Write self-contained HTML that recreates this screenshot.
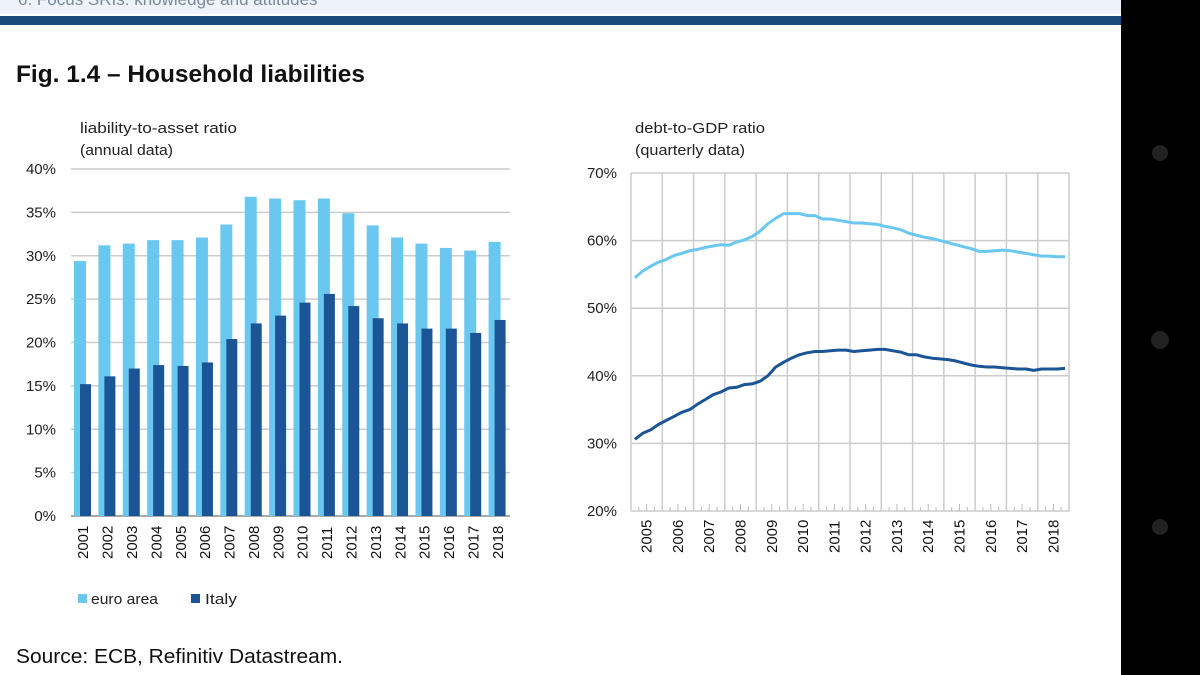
<!DOCTYPE html>
<html><head><meta charset="utf-8"><style>
html,body{margin:0;padding:0;width:1200px;height:675px;overflow:hidden;background:#fff;font-family:"Liberation Sans",sans-serif}
svg text{font-family:"Liberation Sans",sans-serif}
</style></head><body>
<svg id="s" width="1200" height="675" xmlns="http://www.w3.org/2000/svg">
<rect x="0" y="0" width="1121" height="14" fill="#eef3fb"/>
<text x="18" y="5" font-size="17" fill="#7a8a9a">6. Focus SRIs: knowledge and attitudes</text>
<rect x="0" y="16" width="1121" height="9" fill="#1b4a7a"/>
<rect x="1121" y="0" width="79" height="675" fill="#000"/>
<circle cx="1160" cy="153" r="8" fill="#222"/>
<circle cx="1160" cy="340" r="9" fill="#222"/>
<circle cx="1160" cy="527" r="8" fill="#222"/>
<text x="16" y="82" font-size="24" font-weight="bold" fill="#111" textLength="349" lengthAdjust="spacingAndGlyphs">Fig. 1.4 – Household liabilities</text>
<text x="80" y="133" font-size="15" fill="#222" textLength="157" lengthAdjust="spacingAndGlyphs">liability-to-asset ratio</text>
<text x="80" y="155" font-size="15" fill="#222" textLength="93" lengthAdjust="spacingAndGlyphs">(annual data)</text>
<text x="635" y="133" font-size="15" fill="#222" textLength="130" lengthAdjust="spacingAndGlyphs">debt-to-GDP ratio</text>
<text x="635" y="155" font-size="15" fill="#222" textLength="110" lengthAdjust="spacingAndGlyphs">(quarterly data)</text>
<g id="left"></g>
<g id="right"></g>
<rect x="78" y="594" width="9" height="9" fill="#6ac7ef"/>
<text x="91" y="604" font-size="15" fill="#222" textLength="67" lengthAdjust="spacingAndGlyphs">euro area</text>
<rect x="191" y="594" width="9" height="9" fill="#1c5596"/>
<text x="205" y="604" font-size="15" fill="#222" textLength="32" lengthAdjust="spacingAndGlyphs">Italy</text>
<text x="16" y="663" font-size="20" fill="#111" textLength="327" lengthAdjust="spacingAndGlyphs">Source: ECB, Refinitiv Datastream.</text>
</svg>
<script>
const barYears=["2001","2002","2003","2004","2005","2006","2007","2008","2009","2010","2011","2012","2013","2014","2015","2016","2017","2018"];
const euroArea=[29.4,31.2,31.4,31.8,31.8,32.1,33.6,36.8,36.6,36.4,36.6,34.9,33.5,32.1,31.4,30.9,30.6,31.6];
const italy=[15.2,16.1,17.0,17.4,17.3,17.7,20.4,22.2,23.1,24.6,25.6,24.2,22.8,22.2,21.6,21.6,21.1,22.6];
const leftTicks=[0,5,10,15,20,25,30,35,40];
const lineYears=["2005","2006","2007","2008","2009","2010","2011","2012","2013","2014","2015","2016","2017","2018"];
const euroDebt=[54.5,55.5,56.2,56.8,57.2,57.8,58.1,58.5,58.7,59.0,59.2,59.4,59.3,59.8,60.1,60.6,61.4,62.5,63.3,64.0,64.0,64.0,63.7,63.7,63.2,63.2,63.0,62.8,62.6,62.6,62.5,62.4,62.1,61.9,61.6,61.1,60.8,60.5,60.3,60.0,59.7,59.4,59.1,58.8,58.4,58.4,58.5,58.6,58.5,58.3,58.1,57.9,57.7,57.7,57.6,57.6];
const italyDebt=[30.6,31.5,32.0,32.8,33.4,34.0,34.6,35.0,35.8,36.5,37.2,37.6,38.2,38.3,38.7,38.8,39.2,40.0,41.3,42.0,42.6,43.1,43.4,43.6,43.6,43.7,43.8,43.8,43.6,43.7,43.8,43.9,43.9,43.7,43.5,43.1,43.1,42.8,42.6,42.5,42.4,42.2,41.9,41.6,41.4,41.3,41.3,41.2,41.1,41.0,41.0,40.8,41.0,41.0,41.0,41.1];
const rightTicks=[20,30,40,50,60,70];
const NS="http://www.w3.org/2000/svg";
function mk(p,t,a){const e=document.createElementNS(NS,t);for(const k in a)e.setAttribute(k,a[k]);p.appendChild(e);return e;}
const L=document.getElementById('left');
const lx0=71,lx1=510,ly0=516,ly1=169;
const ly=v=>ly0+(ly1-ly0)*v/40;
const slot=(lx1-lx0)/barYears.length;
leftTicks.forEach(t=>{
 const g=mk(L,'line',{x1:lx0,x2:lx1,y1:ly(t),y2:ly(t),stroke:t===0?'#aaa':'#ccc','stroke-width':t===0?2:1.5});
 
 
 const tx=mk(L,'text',{x:56,y:ly(t)+5,'text-anchor':'end','font-size':15,fill:'#222'});
 tx.textContent=t+'%';
 
 
});
barYears.forEach((yr,i)=>{
 const sx=lx0+i*slot;
 const b1=mk(L,'rect',{x:sx+3,y:ly(euroArea[i]),width:12,height:ly0-ly(euroArea[i]),fill:'#6ac7ef'});
 
 
 const b2=mk(L,'rect',{x:sx+9,y:ly(italy[i]),width:11,height:ly0-ly(italy[i]),fill:'#1c5596'});
 
 
 const cx=sx+slot/2+5;
 const tx=mk(L,'text',{x:cx,y:559,'font-size':15,fill:'#111',transform:`rotate(-90 ${cx} 559)`});
 tx.textContent=yr;
 
 
});
const R=document.getElementById('right');
const rx0=631,rx1=1069,ry0=511,ry1=173;
const ry=v=>ry0+(ry1-ry0)*(v-20)/50;
const yw=(rx1-rx0)/lineYears.length;
const rx=q=>rx0+(q+0.5)*yw/4;
rightTicks.forEach(t=>{
 const g=mk(R,'line',{x1:rx0,x2:rx1,y1:ry(t),y2:ry(t),stroke:'#ccc','stroke-width':1.5});
 
 
 const tx=mk(R,'text',{x:617,y:ry(t)+5,'text-anchor':'end','font-size':15,fill:'#222'});
 tx.textContent=t+'%';
 
 
});
for(let i=0;i<=lineYears.length;i++){
 const x=rx0+i*yw;
 const g=mk(R,'line',{x1:x,x2:x,y1:ry1,y2:ry0,stroke:'#ccc','stroke-width':1.5});
 
 
}
lineYears.forEach((yr,i)=>{
 for(let q=1;q<4;q++){
  const x=rx0+i*yw+q*yw/4;
  const tk=mk(R,'line',{x1:x,x2:x,y1:ry0-(q===2?7:4),y2:ry0,stroke:'#bbb','stroke-width':1});
  
  
 }
 const cx=rx0+(i+0.5)*yw+5;
 const tx=mk(R,'text',{x:cx,y:553,'font-size':15,fill:'#111',transform:`rotate(-90 ${cx} 553)`});
 tx.textContent=yr;
 
 
});
[[euroDebt,'#6ac7ef','line-euro-area'],[italyDebt,'#1c5596','line-italy']].forEach(([d,c,n])=>{
 const p=mk(R,'path',{d:d.map((v,i)=>(i?'L':'M')+rx(i).toFixed(1)+' '+ry(v).toFixed(1)).join(''),fill:'none',stroke:c,'stroke-width':3,'stroke-linejoin':'round'});
 
 
});
</script>
</body></html>
